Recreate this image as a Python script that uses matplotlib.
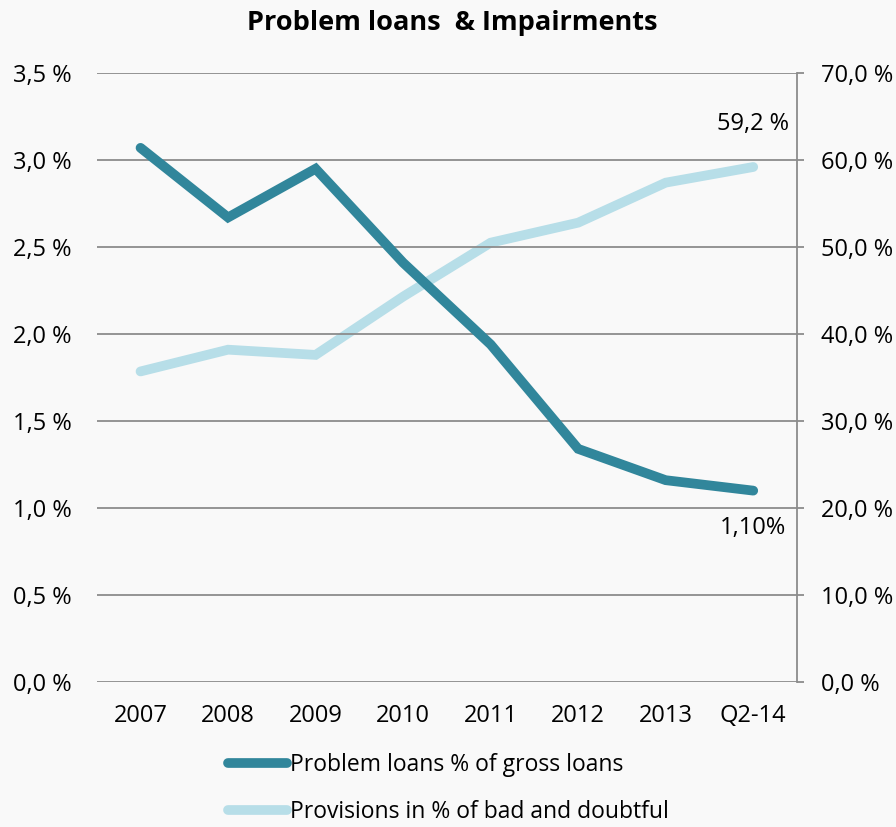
import matplotlib.pyplot as plt
import numpy as np
from matplotlib import font_manager

# font: Calibri-like narrow face if available
names = set(f.name for f in font_manager.fontManager.ttflist)
fam = ['Liberation Sans Narrow', 'DejaVu Sans'] if 'Liberation Sans Narrow' in names else ['Open Sans', 'DejaVu Sans']
plt.rcParams['font.family'] = fam

#-----------------------------------
# data
categories = ['2007', '2008', '2009', '2010', '2011', '2012', '2013', 'Q2-14']
problem_loans = [3.07, 2.67, 2.95, 2.41, 1.94, 1.34, 1.16, 1.10]
provisions = [35.7, 38.2, 37.6, 44.3, 50.5, 52.8, 57.4, 59.2]
left_ticks = [0, 0.5, 1.0, 1.5, 2.0, 2.5, 3.0, 3.5]
right_ticks = [0, 10, 20, 30, 40, 50, 60, 70]

dark = '#31869B'
light = '#B7DEE8'
grid_c = '#8C8C8C'
bg = '#F9F9F9'

#-----------------------------------
fig = plt.figure(figsize=(8.96, 8.27), dpi=100, facecolor=bg)
ax = fig.add_axes([0.108, 0.1753, 0.7815, 0.7364])
ax.set_facecolor(bg)
ax2 = ax.twinx()

x = np.arange(len(categories))
l1, = ax.plot(x, problem_loans, color=dark, lw=7, solid_capstyle='round',
              solid_joinstyle='miter', label='Problem loans % of gross loans', zorder=3)
l2, = ax2.plot(x, provisions, color=light, lw=7, solid_capstyle='round',
               solid_joinstyle='miter', label='Provisions in % of bad and doubtful', zorder=2)

ax.set_xlim(-0.5, len(categories) - 0.5)
ax.set_ylim(0, 3.5)
ax2.set_ylim(0, 70)

ax.set_yticks(left_ticks)
ax.set_yticklabels([('%.1f %%' % v).replace('.', ',') for v in left_ticks])
ax2.set_yticks(right_ticks)
ax2.set_yticklabels([('%.1f %%' % v).replace('.', ',') for v in right_ticks])
ax.set_xticks(x)
ax.set_xticklabels(categories)

ax.grid(axis='y', color=grid_c, lw=1.3)
ax.set_axisbelow(True)

for a in (ax, ax2):
    for s in a.spines.values():
        s.set_visible(False)
ax2.spines['right'].set_visible(True)
ax2.spines['right'].set_color(grid_c)
ax2.spines['right'].set_linewidth(1.3)

ax.tick_params(axis='y', length=0, pad=18, labelsize=17)
ax.tick_params(axis='x', length=0, pad=16, labelsize=17)
ax2.tick_params(axis='y', length=5, width=1.3, color=grid_c, pad=12, labelsize=17)

# keep light line behind dark one
ax.set_zorder(ax2.get_zorder() + 1)
ax.patch.set_visible(False)
ax2.patch.set_visible(True)
ax2.patch.set_facecolor(bg)

# data labels
ax2.annotate(('%.1f %%' % provisions[-1]).replace('.', ','), (x[-1], provisions[-1]),
             xytext=(0, 22), textcoords='offset points', ha='center', va='bottom', fontsize=17)
ax.annotate(('%.2f%%' % problem_loans[-1]).replace('.', ','), (x[-1], problem_loans[-1]),
            xytext=(0, -18), textcoords='offset points', ha='center', va='top', fontsize=17)

fig.text(0.505, 0.972, 'Problem loans  & Impairments', ha='center', va='center',
         fontsize=19.5, fontweight='bold')

fig.legend([l1, l2], [l1.get_label(), l2.get_label()], loc='center',
           bbox_to_anchor=(0.5, 0.046), ncol=1, frameon=False, fontsize=16.5,
           handlelength=2.6, handletextpad=0.1, labelspacing=1.0)

fig.savefig('out.png', dpi=100, facecolor=bg)
